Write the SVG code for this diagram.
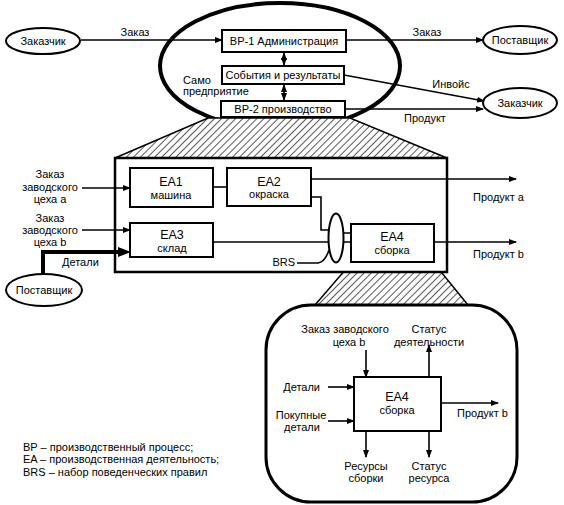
<svg xmlns="http://www.w3.org/2000/svg" width="564" height="505" viewBox="0 0 564 505">
<style>
text{font-family:"Liberation Sans",Arial,sans-serif;font-size:11px;fill:#000}
.c{text-anchor:middle}
.e{text-anchor:end}
.big{font-size:12.5px}
.box{fill:#fff;stroke:#000;stroke-width:2}
.ell{fill:#fff;stroke:#000;stroke-width:2}
.ln{fill:none;stroke:#000;stroke-width:1.6}
</style>
<defs>
<marker id="a" markerUnits="userSpaceOnUse" markerWidth="8" markerHeight="6" refX="7" refY="3" orient="auto"><path d="M0,0 L8,3 L0,6 z" fill="#000"/></marker>
<marker id="as" markerUnits="userSpaceOnUse" markerWidth="8" markerHeight="6" refX="7" refY="3" orient="auto-start-reverse"><path d="M0,0 L8,3 L0,6 z" fill="#000"/></marker>
<marker id="ab" markerUnits="userSpaceOnUse" markerWidth="13" markerHeight="10" refX="0" refY="5" orient="auto"><path d="M0,0 L13,5 L0,10 z" fill="#000"/></marker>
<pattern id="hatch" patternUnits="userSpaceOnUse" width="5" height="5" patternTransform="rotate(45)"><rect width="5" height="5" fill="#fff"/><line x1="0" y1="0" x2="0" y2="5" stroke="#000" stroke-width="1.3"/></pattern>
</defs>

<g id="enterprise">
<ellipse cx="280" cy="66" rx="120" ry="63" fill="none" stroke="#000" stroke-width="4"/>
<text x="183" y="84">Само</text>
<text x="183" y="95">предприятие</text>
</g>

<g id="hatch1"><polygon points="208,118 350,118 447,158 115,158" fill="url(#hatch)" stroke="#000" stroke-width="1.5"/></g>
<g id="hatch2"><polygon points="352,262 433,262 468,305 315,305" fill="url(#hatch)" stroke="#000" stroke-width="1.5"/></g>

<g id="mainbox"><rect x="115" y="158" width="332" height="114" fill="#fff" stroke="#000" stroke-width="2.5"/></g>
<g id="detail-frame"><rect x="266" y="305" width="251" height="197" rx="45" fill="#fff" stroke="#000" stroke-width="3"/></g>

<g id="connectors">
<path class="ln" d="M81,40 H222" marker-end="url(#a)"/>
<path class="ln" d="M346,40 H483" marker-end="url(#a)"/>
<path class="ln" d="M344,75 L484,101" marker-end="url(#a)"/>
<path class="ln" d="M345,109 H483" marker-end="url(#a)"/>
<path class="ln" d="M284,53 V65" marker-start="url(#as)" marker-end="url(#as)"/>
<path class="ln" d="M284,85 V100" marker-start="url(#as)" marker-end="url(#as)"/>
<path class="ln" d="M82,188 H130" marker-end="url(#a)"/>
<path class="ln" d="M82,230 H130" marker-end="url(#a)"/>
<path fill="none" stroke="#000" stroke-width="4" d="M43,274 V252 H118" marker-end="url(#ab)"/>
<path class="ln" d="M213,187 H227"/>
<path class="ln" d="M311,179 H516" marker-end="url(#a)"/>
<path class="ln" d="M311,197 H321 V230 H329"/>
<path class="ln" d="M213,242 H329"/>
<path class="ln" d="M343,233 H351 M343,242 H351"/>
<path class="ln" d="M434,242 H516" marker-end="url(#a)"/>
<path class="ln" d="M297,263 H318 Q325,262 329,250"/>
<path class="ln" d="M366,350 V377" marker-end="url(#a)"/>
<path class="ln" d="M429,377 V345" marker-end="url(#a)"/>
<path class="ln" d="M328,387 H354" marker-end="url(#a)"/>
<path class="ln" d="M328,421 H354" marker-end="url(#a)"/>
<path class="ln" d="M441,403 H498" marker-end="url(#a)"/>
<path class="ln" d="M366,431 V457" marker-end="url(#a)"/>
<path class="ln" d="M429,431 V457" marker-end="url(#a)"/>
</g>

<g id="labels">
<text class="c" x="135" y="36">Заказ</text>
<text class="c" x="427" y="36">Заказ</text>
<text class="c" x="451" y="88">Инвойс</text>
<text class="c" x="425" y="122">Продукт</text>
<text class="c" x="50" y="178">Заказ</text>
<text class="c" x="50" y="191">заводского</text>
<text class="c" x="50" y="203">цеха a</text>
<text class="c" x="50" y="222">Заказ</text>
<text class="c" x="50" y="234">заводского</text>
<text class="c" x="50" y="246">цеха b</text>
<text x="62" y="266">Детали</text>
<text class="e" x="295" y="266">BRS</text>
<text x="473" y="201">Продукт a</text>
<text x="473" y="258">Продукт b</text>
</g>

<g id="customer-left"><ellipse class="ell" cx="43" cy="41" rx="37" ry="13"/><text class="c" x="43" y="45">Заказчик</text></g>
<g id="supplier-right"><ellipse class="ell" cx="520" cy="40" rx="37" ry="14"/><text class="c" x="520" y="44">Поставщик</text></g>
<g id="customer-right"><ellipse class="ell" cx="520" cy="103" rx="37" ry="15"/><text class="c" x="520" y="107">Заказчик</text></g>
<g id="supplier-bottom"><ellipse class="ell" cx="44" cy="290" rx="38" ry="16"/><text class="c" x="44" y="294">Поставщик</text></g>

<g id="bp1"><rect class="box" x="222" y="30" width="124" height="22"/><text class="c" x="284" y="45">BP-1 Администрация</text></g>
<g id="events"><rect class="box" x="222" y="66" width="122" height="18"/><text class="c" x="283" y="79">События и результаты</text></g>
<g id="bp2"><rect class="box" x="221" y="101" width="124" height="16"/><text class="c" x="283" y="113">BP-2 производство</text></g>

<g id="ea1"><rect class="box" x="130" y="168" width="83" height="39"/><text class="c big" x="171" y="186">EA1</text><text class="c" x="171" y="199">машина</text></g>
<g id="ea2"><rect class="box" x="227" y="168" width="84" height="38"/><text class="c big" x="269" y="186">EA2</text><text class="c" x="269" y="198">окраска</text></g>
<g id="ea3"><rect class="box" x="130" y="223" width="83" height="34"/><text class="c big" x="172" y="239">EA3</text><text class="c" x="172" y="252">склад</text></g>
<g id="brs"><ellipse class="ell" cx="336" cy="238" rx="7.5" ry="24.5"/></g>
<g id="ea4"><rect class="box" x="351" y="224" width="83" height="38"/><text class="c big" x="392" y="241">EA4</text><text class="c" x="392" y="254">сборка</text></g>

<g id="detail">
<text class="c" x="345" y="333">Заказ заводского</text>
<text class="c" x="349" y="346">цеха b</text>
<text class="c" x="429" y="333">Статус</text>
<text class="c" x="429" y="346">деятельности</text>
<text class="e" x="320" y="391">Детали</text>
<text class="c" x="301" y="419">Покупные</text>
<text class="c" x="302" y="431">детали</text>
<text x="457" y="417">Продукт b</text>
<text class="c" x="366" y="470">Ресурсы</text>
<text class="c" x="366" y="482">сборки</text>
<text class="c" x="429" y="470">Статус</text>
<text class="c" x="429" y="482">ресурса</text>
</g>
<g id="ea4-detail"><rect class="box" x="354" y="377" width="87" height="54"/><text class="c big" x="397" y="401">EA4</text><text class="c" x="397" y="414">сборка</text></g>

<g id="legend">
<text x="23" y="451">BP – производственный процесс;</text>
<text x="23" y="463">EA – производственная деятельность;</text>
<text x="23" y="476">BRS – набор поведенческих правил</text>
</g>
</svg>
